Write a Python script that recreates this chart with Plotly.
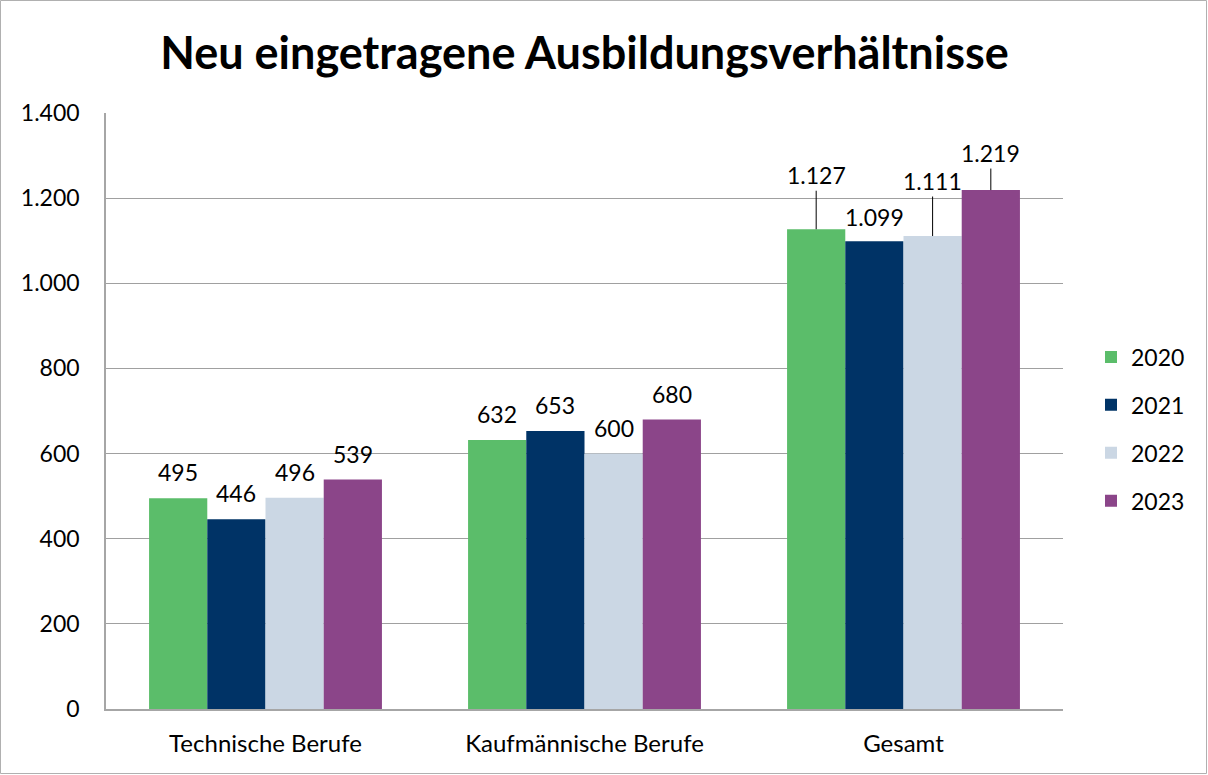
import plotly.graph_objects as go

categories = ["Technische Berufe", "Kaufmännische Berufe", "Gesamt"]
years = ["2020", "2021", "2022", "2023"]
values = {
    "2020": [495, 632, 1127],
    "2021": [446, 653, 1099],
    "2022": [496, 600, 1111],
    "2023": [539, 680, 1219],
}
colors = {"2020": "#5BBD6A", "2021": "#003366", "2022": "#CBD7E4", "2023": "#8B4589"}
y_ticks = [0, 200, 400, 600, 800, 1000, 1200, 1400]
title = "Neu eingetragene Ausbildungsverhältnisse"

FONT = "Lato, 'Open Sans', sans-serif"
W, H = 1208, 775
ML, MR, MT, MB = 106, 145, 113, 66
BARGAP = 0.27
FS = 23

fig = go.Figure()
for yr in years:
    fig.add_trace(go.Bar(
        name=yr, x=categories, y=values[yr], marker_color=colors[yr],
        marker_line_width=0, legendgroup=yr,
    ))

plot_w = W - ML - MR
plot_h = H - MT - MB
cat_px = plot_w / len(categories)
bar_px = cat_px * (1 - BARGAP) / len(years)

# Leader-line offsets (pixels) for the "Gesamt" group; None = plain label above bar
leader_offsets = {"2020": -54, "2021": None, "2022": -55, "2023": -37}

for i, yr in enumerate(years):
    xs = (i - (len(years) - 1) / 2) * bar_px
    for c, v in zip(categories, values[yr]):
        label = f"{v:,}".replace(",", ".")
        off = leader_offsets[yr] if c == "Gesamt" else None
        if off is None:
            fig.add_annotation(x=c, y=v, xref="x", yref="y", text=label, showarrow=False,
                               xshift=xs, yshift=26 if c != "Gesamt" else 24,
                               font=dict(size=FS, color="#000", family=FONT))
        else:
            fig.add_annotation(x=c, y=v, xref="x", yref="y", text=label, showarrow=True,
                               arrowhead=0, arrowwidth=1, arrowcolor="#000", ax=0, ay=off,
                               xshift=xs, standoff=0, font=dict(size=FS, color="#000", family=FONT))

fig.add_shape(type="rect", xref="paper", yref="paper",
              x0=-ML / plot_w + 0.5 / plot_w, x1=1 + (MR - 1.5) / plot_w,
              y0=-(MB - 1.5) / plot_h, y1=1 + (MT - 0.5) / plot_h,
              line=dict(color="#B0B0B0", width=1), fillcolor="rgba(0,0,0,0)", layer="below")

fig.update_layout(
    width=W, height=H,
    margin=dict(l=ML, r=MR, t=MT, b=MB, autoexpand=False),
    paper_bgcolor="white", plot_bgcolor="white",
    barmode="group", bargap=BARGAP, bargroupgap=0,
    separators=",.",
    title=dict(text=f"<b>{title}</b>", x=0.5, xref="paper", xanchor="center",
               y=1 - 53 / H, yanchor="middle", font=dict(size=45, family=FONT, color="#000")),
    font=dict(family=FONT, color="#000"),
    legend=dict(x=1 + 28 / plot_w, xanchor="left", y=(709 - 429) / plot_h, yanchor="middle",
                font=dict(size=FS, family=FONT, color="#000"), tracegroupgap=15,
                itemwidth=30, bgcolor="rgba(0,0,0,0)"),
    showlegend=True,
)
fig.update_yaxes(range=[0, 1400], tickvals=y_ticks, tickformat=",d",
                 showgrid=True, gridcolor="#A0A0A0", gridwidth=1,
                 showline=True, linecolor="#A6A6A6", linewidth=1.5,
                 tickfont=dict(size=FS, family=FONT, color="#000"),
                 ticks="", ticklabelstandoff=20, zeroline=False)
fig.update_xaxes(showline=True, linecolor="#A6A6A6", linewidth=1.5, ticks="",
                 tickfont=dict(size=24, family=FONT, color="#000"), ticklabelstandoff=12)

fig.write_html("out.html", config={"displayModeBar": False},
               post_script="document.body.style.margin='0';")
